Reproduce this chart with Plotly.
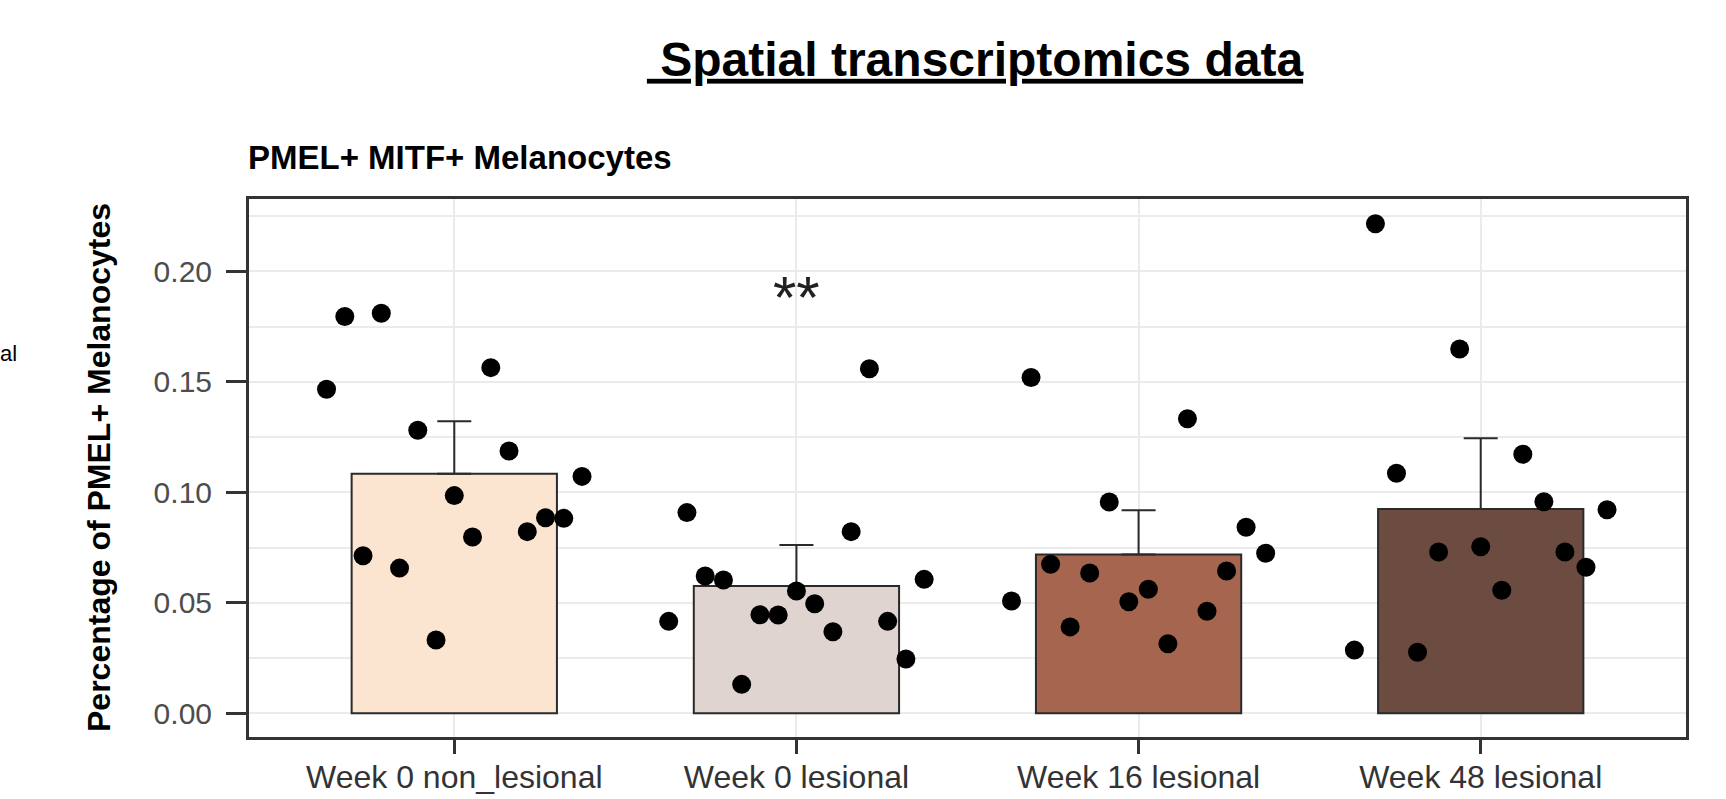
import plotly.graph_objects as go

categories = ["Week 0 non_lesional", "Week 0 lesional", "Week 16 lesional", "Week 48 lesional"]
bar_means = [0.1084, 0.0576, 0.0719, 0.0924]
bar_errors = [0.0237, 0.0186, 0.0200, 0.0320]
bar_colors = ["#FCE5D0", "#E0D4D1", "#A5654E", "#6C4C41"]

# individual sample values, ordered by their dodge slot (left to right)
week0_nonlesional = [0.1466, 0.1795, 0.0713, 0.1810, 0.0657, 0.1281, 0.0332, 0.0985,
                     0.0798, 0.1564, 0.1187, 0.0822, 0.0885, 0.0882, 0.1072]
week0_lesional = [0.0416, 0.0908, 0.0621, 0.0603, 0.0131, 0.0446, 0.0445, 0.0553,
                  0.0496, 0.0369, 0.0822, 0.1559, 0.0416, 0.0246, 0.0606]
week16_lesional = [0.0508, 0.1519, 0.0674, 0.0391, 0.0635, 0.0956, 0.0505, 0.0561,
                   0.0315, 0.1333, 0.0462, 0.0644, 0.0842, 0.0724]
week48_lesional = [0.0286, 0.2215, 0.1086, 0.0276, 0.0730, 0.1648, 0.0754, 0.0557,
                   0.1172, 0.0957, 0.0730, 0.0661, 0.0921]
group_points = [week0_nonlesional, week0_lesional, week16_lesional, week48_lesional]

signif_label = "**"
signif_group = 2
signif_y = 0.188

tick_vals = [0.0, 0.05, 0.10, 0.15, 0.20]

FONT = "Liberation Sans, Arial, Helvetica, sans-serif"
DODGE = 0.8
W, H = 1726, 799
ML, MR, MT, MB = 249, 40, 199, 62
PW = W - ML - MR
PH = H - MT - MB

fig = go.Figure()

pos = list(range(1, len(categories) + 1))
fig.add_trace(go.Bar(
    x=pos, y=bar_means, width=0.6,
    marker=dict(color=bar_colors, line=dict(color="#2a2a2a", width=2)),
    error_y=dict(type="data", array=bar_errors, arrayminus=[0] * len(bar_errors),
                 symmetric=False, color="#2a2a2a", thickness=2, width=17),
    showlegend=False, hoverinfo="skip",
))

for gi, vals in enumerate(group_points):
    n = len(vals)
    xs = [pos[gi] + (i - (n - 1) / 2) * DODGE / n for i in range(n)]
    fig.add_trace(go.Scatter(
        x=xs, y=vals, mode="markers",
        marker=dict(color="black", size=19, line=dict(width=0)),
        showlegend=False, hoverinfo="skip",
    ))

fig.add_annotation(x=signif_group, y=signif_y, xref="x", yref="y", text=signif_label,
                   showarrow=False, font=dict(family=FONT, size=60, color="#222"),
                   xanchor="center", yanchor="middle")

# y-axis title
fig.add_annotation(x=(99 - ML) / PW, y=0.5, xref="paper", yref="paper",
                   text="<b>Percentage of PMEL+ Melanocytes</b>", textangle=-90,
                   showarrow=False, font=dict(family=FONT, size=32, color="black"),
                   xanchor="center", yanchor="middle")
# panel subtitle
fig.add_annotation(x=-3 / PW, y=(H - MB - 157) / PH, xref="paper", yref="paper",
                   text="<b>PMEL+ MITF+ Melanocytes</b>",
                   showarrow=False, font=dict(family=FONT, size=33, color="black"),
                   xanchor="left", yanchor="middle")
# cut-off legend text at far left edge
fig.add_annotation(x=-(ML + 2) / PW, y=(H - MB - 353) / PH, xref="paper", yref="paper",
                   text="al", showarrow=False,
                   font=dict(family=FONT, size=22, color="black"),
                   xanchor="left", yanchor="middle")

fig.update_layout(
    width=W, height=H,
    margin=dict(l=ML, r=MR, t=MT, b=MB),
    paper_bgcolor="white", plot_bgcolor="white",
    title=dict(text="<b><u>\u00a0Spatial transcriptomics data</u></b>",
               x=975 / W, xanchor="center", xref="container",
               y=1 - 59 / H, yanchor="middle", yref="container",
               font=dict(family=FONT, size=48, color="black")),
    font=dict(family=FONT),
    xaxis=dict(range=[0.4, 4.6], tickvals=pos, ticktext=categories,
               showgrid=True, gridcolor="#EBEBEB", gridwidth=1.5,
               showline=True, linecolor="#333333", linewidth=3, mirror=True,
               ticks="outside", ticklen=14, tickwidth=3, tickcolor="#333333",
               ticklabelstandoff=-4, automargin=False,
               tickfont=dict(family=FONT, size=32, color="#333333"),
               zeroline=False, fixedrange=True),
    yaxis=dict(range=[-0.01072, 0.2327], tickvals=tick_vals, tickformat=".2f",
               showgrid=True, gridcolor="#EBEBEB", gridwidth=1.5,
               minor=dict(dtick=0.025, tick0=0, showgrid=True, gridcolor="#EBEBEB", gridwidth=1.5),
               showline=True, linecolor="#333333", linewidth=3, mirror=True,
               ticks="outside", ticklen=20, tickwidth=3, tickcolor="#333333",
               ticklabelstandoff=8, automargin=False,
               tickfont=dict(family=FONT, size=30, color="#4D4D4D"),
               zeroline=False, fixedrange=True),
)

fig.write_html("out.html", config={"displayModeBar": False},
               post_script="document.body.style.margin='0px';document.body.style.overflow='hidden';")
